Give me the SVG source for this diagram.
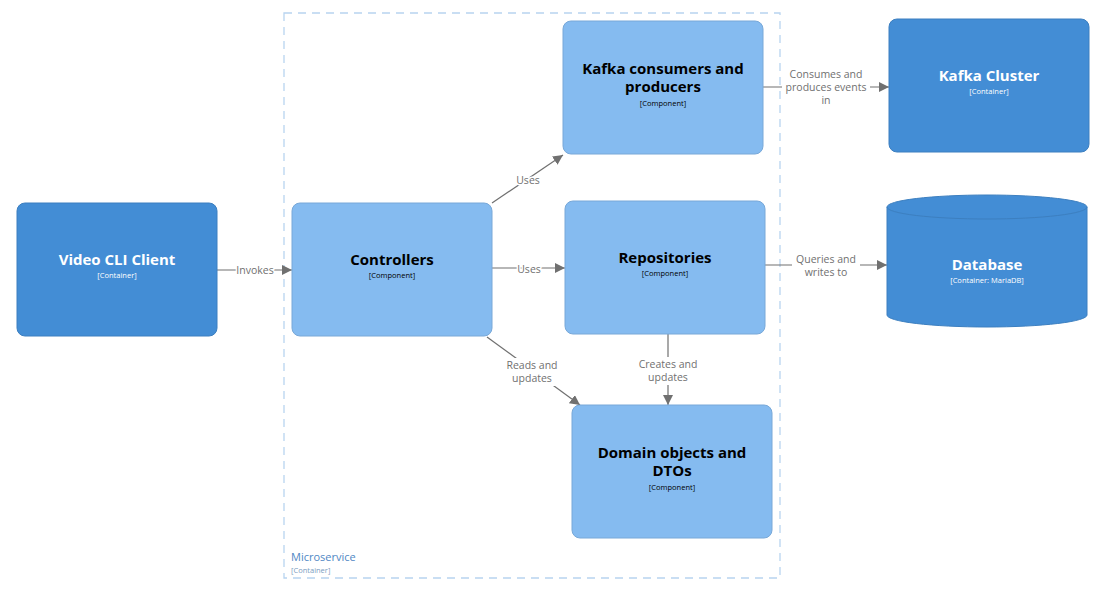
<svg xmlns="http://www.w3.org/2000/svg" width="1101" height="591" viewBox="0 0 1101 591">
<style>
.t{font-family:"Open Sans","Noto Sans",sans-serif;font-weight:bold;font-size:15px;text-anchor:middle}
.s{font-family:"Open Sans","Noto Sans",sans-serif;font-size:7.5px;text-anchor:middle}
.w{fill:#ffffff}
.k{fill:#000000}
.dark{fill:#438dd5;stroke:#3c7fc0;stroke-width:1}
.light{fill:#85bbf0;stroke:#78a8d8;stroke-width:1}
.c{stroke:#707070;stroke-width:1.2;fill:none;marker-end:url(#a)}
.bg{fill:#ffffff}
.l{font-family:"Open Sans","Noto Sans",sans-serif;font-size:10.5px;fill:#707070;text-anchor:middle;stroke:#ffffff;stroke-width:3;paint-order:stroke;stroke-linejoin:round}
</style>
<defs>
<marker id="a" viewBox="0 0 10 10" refX="10" refY="5" markerWidth="10" markerHeight="10" markerUnits="userSpaceOnUse" orient="auto">
<path d="M0,0 L10,5 L0,10 z" fill="#707070"/>
</marker>
</defs>
<rect width="1101" height="591" fill="#ffffff"/>
<g id="microservice">
<rect x="284" y="13" width="496" height="565" fill="none" stroke="#b8d4f0" stroke-width="1.3" stroke-dasharray="8,6"/>
<text x="291" y="561" font-family="'Open Sans','Noto Sans',sans-serif" font-size="11" fill="#4f87c4">Microservice</text>
<text x="291" y="573" font-family="'Open Sans','Noto Sans',sans-serif" font-size="7.5" fill="#7a9cc0">[Container]</text>
</g>
<g id="connectors">
<line class="c" x1="217" y1="270" x2="292" y2="270"/>
<text class="l" x="255" y="274">Invokes</text>
<line class="c" x1="492" y1="203" x2="563" y2="155"/>
<text class="l" x="528" y="184">Uses</text>
<line class="c" x1="492" y1="268" x2="565" y2="268"/>
<text class="l" x="529" y="273">Uses</text>
<line class="c" x1="487" y1="337" x2="580" y2="405"/>
<rect class="bg" x="502" y="358" width="60" height="28"/>
<text class="l" x="532" y="369">Reads and</text>
<text class="l" x="532" y="382">updates</text>
<line class="c" x1="668" y1="334" x2="668" y2="405"/>
<rect class="bg" x="636" y="357" width="64" height="28"/>
<text class="l" x="668" y="368">Creates and</text>
<text class="l" x="668" y="381">updates</text>
<line class="c" x1="763" y1="87" x2="889" y2="87"/>
<rect class="bg" x="782" y="67" width="88" height="40"/>
<text class="l" x="826" y="78">Consumes and</text>
<text class="l" x="826" y="91">produces events</text>
<text class="l" x="826" y="104">in</text>
<line class="c" x1="765" y1="265" x2="887" y2="265"/>
<rect class="bg" x="792" y="253" width="68" height="27"/>
<text class="l" x="826" y="263">Queries and</text>
<text class="l" x="826" y="276">writes to</text>
</g>
<g id="video-cli-client">
<rect class="dark" x="17" y="203" width="200" height="133" rx="8"/>
<text class="t w" x="117" y="265">Video CLI Client</text>
<text class="s w" x="117" y="278">[Container]</text>
</g>
<g id="controllers">
<rect class="light" x="292" y="203" width="200" height="133" rx="8"/>
<text class="t k" x="392" y="265">Controllers</text>
<text class="s k" x="392" y="278">[Component]</text>
</g>
<g id="kafka-consumers">
<rect class="light" x="563" y="21" width="200" height="133" rx="8"/>
<text class="t k" x="663" y="74">Kafka consumers and</text>
<text class="t k" x="663" y="92">producers</text>
<text class="s k" x="663" y="106">[Component]</text>
</g>
<g id="repositories">
<rect class="light" x="565" y="201" width="200" height="133" rx="8"/>
<text class="t k" x="665" y="263">Repositories</text>
<text class="s k" x="665" y="276">[Component]</text>
</g>
<g id="domain-objects">
<rect class="light" x="572" y="405" width="200" height="133" rx="8"/>
<text class="t k" x="672" y="458">Domain objects and</text>
<text class="t k" x="672" y="476">DTOs</text>
<text class="s k" x="672" y="490">[Component]</text>
</g>
<g id="kafka-cluster">
<rect class="dark" x="889" y="19" width="200" height="133" rx="8"/>
<text class="t w" x="989" y="81">Kafka Cluster</text>
<text class="s w" x="989" y="94">[Container]</text>
</g>
<g id="database">
<path class="dark" d="M887,207 A100,12 0 0 1 1087,207 L1087,315 A100,12 0 0 1 887,315 Z"/>
<path d="M887,207 A100,12 0 0 0 1087,207" fill="none" stroke="#3c7fc0" stroke-width="1"/>
<text class="t w" x="987" y="270">Database</text>
<text class="s w" x="987" y="283">[Container: MariaDB]</text>
</g>
</svg>
